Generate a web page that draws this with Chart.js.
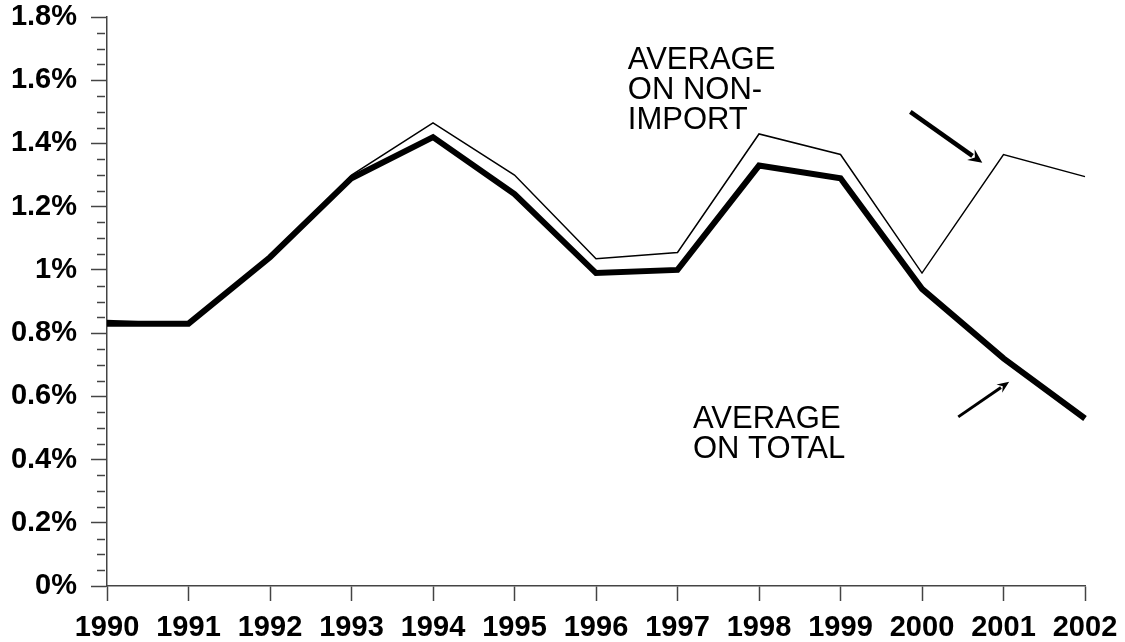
<!DOCTYPE html>
<html>
<head>
<meta charset="utf-8">
<script src="https://cdn.jsdelivr.net/npm/chart.js@4.4.1/dist/chart.umd.min.js"></script>
<style>
html,body{margin:0;padding:0;background:#fff;}
#wrap{width:1125px;height:642px;position:relative;}
</style>
</head>
<body>
<div id="wrap"><canvas id="c" width="1125" height="642"></canvas></div>
<script>
const years = ['1990','1991','1992','1993','1994','1995','1996','1997','1998','1999','2000','2001','2002'];
const averageOnTotal = [0.83,0.83,1.04,1.29,1.42,1.24,0.99,1.00,1.33,1.29,0.94,0.72,0.53];
const averageOnNonImport = [0.84,0.83,1.04,1.30,1.465,1.30,1.035,1.055,1.43,1.365,0.99,1.365,1.295];
const yMin = 0, yMax = 1.8, yMajorStep = 0.2, yMinorStep = 0.05;
const labelNonImport = ['AVERAGE','ON NON-','IMPORT'];
const labelTotal = ['AVERAGE','ON TOTAL'];

const FONT = '"Liberation Sans", Arial, sans-serif';
const AXIS = '#444';

function isMajor(v){ return Math.abs(Math.round(v*100) % Math.round(yMajorStep*100)) === 0; }

const annotations = {
  id:'annotations',
  afterDraw(chart){
    const ctx = chart.ctx, x = chart.scales.x, y = chart.scales.y;
    ctx.save();
    // minor ticks on y axis
    ctx.strokeStyle = AXIS; ctx.lineWidth = 1.5;
    const left = chart.chartArea.left;
    for (let i = 0; i <= Math.round((yMax-yMin)/yMinorStep); i++){
      const v = yMin + i*yMinorStep;
      if (isMajor(v)) continue;
      const py = Math.round(y.getPixelForValue(v)) + 0.5;
      ctx.beginPath(); ctx.moveTo(left-10, py); ctx.lineTo(left-2, py); ctx.stroke();
    }
    // text labels
    ctx.fillStyle = '#000';
    ctx.font = '31px ' + FONT;
    ctx.textBaseline = 'alphabetic'; ctx.textAlign = 'left';
    let tx = x.getPixelForValue(6.39), ty = y.getPixelForValue(1.635);
    labelNonImport.forEach((t,i)=>ctx.fillText(t, tx, ty + i*30));
    tx = x.getPixelForValue(7.19); ty = y.getPixelForValue(0.50);
    labelTotal.forEach((t,i)=>ctx.fillText(t, tx, ty + i*30));
    // arrows
    function arrow(x0,y0,x1,y1,w,hl,hw){
      const p0 = [x.getPixelForValue(x0), y.getPixelForValue(y0)];
      const p1 = [x.getPixelForValue(x1), y.getPixelForValue(y1)];
      const ang = Math.atan2(p1[1]-p0[1], p1[0]-p0[0]);
      const bx = p1[0] - hl*Math.cos(ang), by = p1[1] - hl*Math.sin(ang);
      ctx.strokeStyle = '#000'; ctx.lineWidth = w; ctx.lineCap = 'butt';
      ctx.beginPath(); ctx.moveTo(p0[0],p0[1]); ctx.lineTo(bx+2*Math.cos(ang),by+2*Math.sin(ang)); ctx.stroke();
      ctx.fillStyle = '#000';
      ctx.beginPath();
      ctx.moveTo(p1[0],p1[1]);
      ctx.lineTo(bx + hw*Math.sin(ang), by - hw*Math.cos(ang));
      ctx.lineTo(bx + 0.35*hl*Math.cos(ang), by + 0.35*hl*Math.sin(ang));
      ctx.lineTo(bx - hw*Math.sin(ang), by + hw*Math.cos(ang));
      ctx.closePath(); ctx.fill();
    }
    arrow(9.857, 1.50, 10.74, 1.339, 4.5, 14, 6.5);
    arrow(10.445, 0.535, 11.07, 0.646, 3, 12, 5);
    ctx.restore();
  }
};

new Chart(document.getElementById('c'), {
  type:'line',
  data:{
    labels: years,
    datasets:[
      {label:'Average on total', data: averageOnTotal, borderColor:'#000', borderWidth:6,
       pointRadius:0, tension:0, borderJoinStyle:'miter', order:0, fill:false},
      {label:'Average on non-import', data: averageOnNonImport, borderColor:'#000', borderWidth:1.5,
       pointRadius:0, tension:0, borderJoinStyle:'miter', order:1, fill:false}
    ]
  },
  options:{
    responsive:false, animation:false,
    layout:{padding:{left:0, right:40, top:17, bottom:0}},
    plugins:{legend:{display:false}, tooltip:{enabled:false}},
    scales:{
      x:{
        type:'category', offset:false,
        afterFit:(s)=>{ s.height = 56; s.paddingLeft = 0; s.paddingRight = 0; },
        grid:{drawOnChartArea:false, drawTicks:true, tickLength:15, tickColor:AXIS, tickWidth:1.5},
        border:{display:true, color:AXIS, width:1.5},
        ticks:{autoSkip:false, maxRotation:0, minRotation:0, padding:12, color:'#000',
               font:{family:FONT, size:29, weight:'bold', lineHeight:1}}
      },
      y:{
        min:yMin, max:yMax,
        afterFit:(s)=>{ s.width = 107; s.paddingTop = 0; s.paddingBottom = 0; },
        grid:{drawOnChartArea:false, drawTicks:true, tickLength:16,
              tickColor:(c)=> isMajor(c.tick.value) ? AXIS : 'rgba(0,0,0,0)', tickWidth:1.5},
        border:{display:true, color:AXIS, width:1.5},
        ticks:{stepSize:yMinorStep, autoSkip:false, padding:14, color:'#000',
               font:{family:FONT, size:29, weight:'bold', lineHeight:1},
               callback:(v)=> isMajor(v) ? (Math.round(v*10)/10) + '%' : ''}
      }
    }
  },
  plugins:[annotations]
});
</script>
</body>
</html>
